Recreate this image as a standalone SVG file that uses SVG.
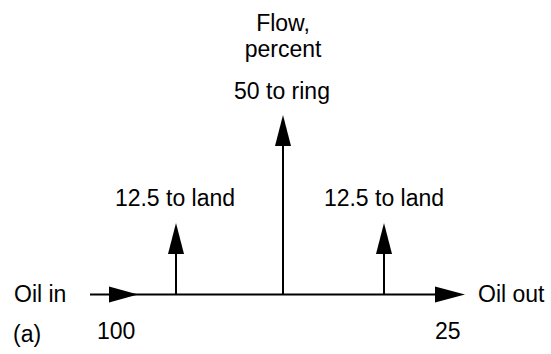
<svg xmlns="http://www.w3.org/2000/svg" width="551" height="354" viewBox="0 0 551 354">
<style>
text{font-family:"Liberation Sans",Arial,sans-serif;font-size:23px;fill:#000}
.m{text-anchor:middle}
.ln{stroke:#000;stroke-width:2;fill:none}
.hd{fill:#000;stroke:none}
</style>
<rect width="551" height="354" fill="#fff"/>
<g id="connectors">
<line class="ln" x1="90" y1="294.5" x2="440" y2="294.5"/>
<polygon class="hd" points="109,286.5 138,294.5 109,302.5"/>
<polygon class="hd" points="435,286.5 465,294.5 435,302.5"/>
<line class="ln" x1="176" y1="294.5" x2="176" y2="250"/>
<polygon class="hd" points="168,254 176,223 184,254"/>
<line class="ln" x1="283" y1="294.5" x2="283" y2="140"/>
<polygon class="hd" points="275,146 283,115 291,146"/>
<line class="ln" x1="384" y1="294.5" x2="384" y2="250"/>
<polygon class="hd" points="376,254 384,223 392,254"/>
</g>
<g id="title">
<text class="m" x="283" y="31">Flow,</text>
<text class="m" x="283" y="57">percent</text>
</g>
<g id="ring"><text class="m" x="282" y="99">50 to ring</text></g>
<g id="land1"><text class="m" x="175" y="206">12.5 to land</text></g>
<g id="land2"><text class="m" x="384" y="206">12.5 to land</text></g>
<g id="oilin"><text x="14" y="302">Oil in</text></g>
<g id="oilout"><text x="478" y="302">Oil out</text></g>
<g id="in100"><text x="97" y="339">100</text></g>
<g id="out25"><text x="435" y="339">25</text></g>
<g id="label"><text x="13" y="342">(a)</text></g>
</svg>
